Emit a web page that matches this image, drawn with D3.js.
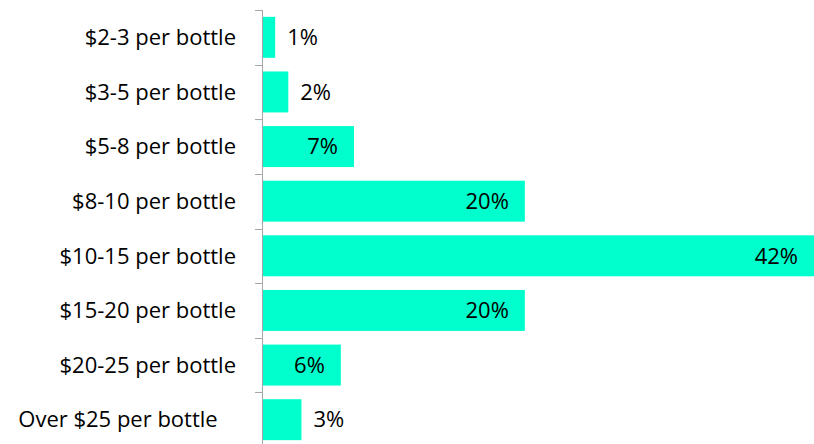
<!DOCTYPE html>
<html>
<head>
<meta charset="utf-8">
<script src="https://cdn.jsdelivr.net/npm/d3@7"></script>
<style>
  html, body { margin: 0; padding: 0; background: #fff; }
  svg { display: block; }
  text { font-family: "Open Sans", Lato, sans-serif; fill: #000; }
</style>
</head>
<body>
<svg id="chart" width="814" height="444"></svg>
<script>
// Price bands (top to bottom) and share of respondents per band, in percent
const categories = [
  "$2-3 per bottle",
  "$3-5 per bottle",
  "$5-8 per bottle",
  "$8-10 per bottle",
  "$10-15 per bottle",
  "$15-20 per bottle",
  "$20-25 per bottle",
  "Over $25 per bottle"
];
const shares = [1, 2, 7, 20, 42, 20, 6, 3];
const valueLabels = ["1%", "2%", "7%", "20%", "42%", "20%", "6%", "3%"];

const data = categories.map((c, i) => ({ category: c, value: shares[i], label: valueLabels[i] }));

const svg = d3.select("#chart");
const W = 814;
const axisX = 262;
const labelRight = 236;
const fontSize = 22;

const x = d3.scaleLinear().domain([0, 42]).range([axisX, W]);
const y = d3.scaleBand()
  .domain(categories)
  .range([10, 447])
  .paddingInner(0.25)
  .paddingOuter(0.125);

// Bars
svg.append("g")
  .selectAll("rect")
  .data(data)
  .join("rect")
  .attr("x", x(0))
  .attr("y", d => y(d.category))
  .attr("width", d => x(d.value) - x(0))
  .attr("height", y.bandwidth())
  .attr("fill", "#00FFCC");

// Category axis: vertical line with tick marks between bands
const axisG = svg.append("g");
axisG.append("line")
  .attr("x1", axisX + 0.5).attr("x2", axisX + 0.5)
  .attr("y1", 10).attr("y2", 447)
  .attr("stroke", "#a6a6a6").attr("stroke-width", 1);
const boundaries = d3.range(categories.length + 1).map(i => 10 + i * y.step());
axisG.selectAll("line.tick")
  .data(boundaries)
  .join("line")
  .attr("class", "tick")
  .attr("x1", axisX - 7).attr("x2", axisX + 0.5)
  .attr("y1", d => Math.round(d) + 0.5).attr("y2", d => Math.round(d) + 0.5)
  .attr("stroke", "#a6a6a6").attr("stroke-width", 1);

// Category labels: right-aligned; a label too wide for its slot is centred in it
const catLabels = svg.append("g")
  .selectAll("text")
  .data(data)
  .join("text")
  .attr("x", labelRight)
  .attr("y", d => y(d.category) + y.bandwidth() / 2)
  .attr("dy", "0.35em")
  .attr("text-anchor", "end")
  .attr("font-size", fontSize)
  .text(d => d.category);
catLabels.each(function () {
  const w = this.getComputedTextLength();
  if (w > 190) {
    d3.select(this).attr("x", labelRight / 2).attr("text-anchor", "middle");
  }
});

// Value labels: outside short bars, inside the end of longer ones
svg.append("g")
  .selectAll("text")
  .data(data)
  .join("text")
  .attr("x", d => {
    const end = x(d.value);
    if (d.value < 5) return end + 12;
    return Math.min(end - 16, W - 6);
  })
  .attr("y", d => y(d.category) + y.bandwidth() / 2)
  .attr("dy", "0.35em")
  .attr("text-anchor", d => d.value < 5 ? "start" : "end")
  .attr("font-size", fontSize)
  .text(d => d.label);
</script>
</body>
</html>
